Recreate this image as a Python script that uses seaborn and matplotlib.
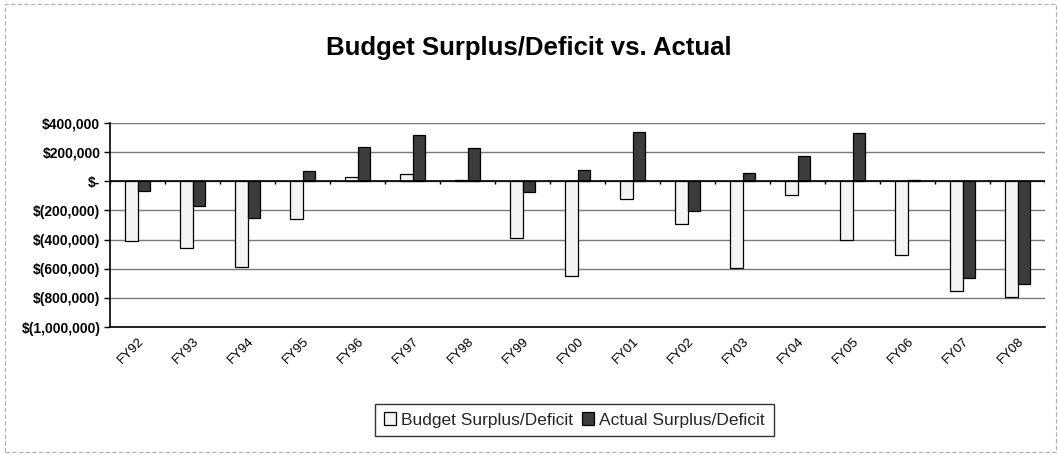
import matplotlib
matplotlib.use("Agg")
import matplotlib.pyplot as plt
import matplotlib.ticker as mticker
from matplotlib.patches import Rectangle
import numpy as np
import pandas as pd
import seaborn as sns

categories = ["FY92", "FY93", "FY94", "FY95", "FY96", "FY97", "FY98", "FY99", "FY00",
              "FY01", "FY02", "FY03", "FY04", "FY05", "FY06", "FY07", "FY08"]
budget = [-410000, -455000, -590000, -260000, 28000, 50000, 5000, -390000, -650000,
          -120000, -295000, -595000, -93000, -405000, -505000, -750000, -795000]
actual = [-70000, -170000, -250000, 70000, 235000, 315000, 225000, -75000, 75000,
          340000, -205000, 55000, 175000, 330000, 10000, -660000, -705000]
series_names = ["Budget Surplus/Deficit", "Actual Surplus/Deficit"]
y_ticks = [400000, 200000, 0, -200000, -400000, -600000, -800000, -1000000]

df = pd.DataFrame({
    "Year": categories * 2,
    "Series": [series_names[0]] * len(categories) + [series_names[1]] * len(categories),
    "Value": budget + actual,
})

sns.set_theme(style="white")
plt.rcParams["font.family"] = ["Liberation Sans", "DejaVu Sans"]

fig = plt.figure(figsize=(10.58, 4.55), dpi=100)
ax = fig.add_axes([0.104, 0.281, 0.884, 0.449])

sns.barplot(data=df, x="Year", y="Value", hue="Series", order=categories,
            hue_order=series_names, palette=["#f4f4f4", "#3c3c3c"],
            width=0.46, edgecolor="black", linewidth=0.9, ax=ax, legend=True,
            errorbar=None)

ax.set_ylim(-1000000, 400000)
ax.set_xlim(-0.5, len(categories) - 0.5)
ax.set_yticks(y_ticks)

def fmt(v, pos):
    if v == 0:
        return "$-"
    if v < 0:
        return "$({:,.0f})".format(-v)
    return "${:,.0f}".format(v)

ax.yaxis.set_major_formatter(mticker.FuncFormatter(fmt))
ax.yaxis.grid(True, color="#7a7a7a", linewidth=1.0)
ax.set_axisbelow(True)
ax.axhline(0, color="black", linewidth=1.2, zorder=3)
bounds = np.arange(len(categories) + 1) - 0.5
ax.vlines(bounds, -22000, 0, color="black", linewidth=1.0, zorder=3)

for s in ["top", "right"]:
    ax.spines[s].set_visible(False)
ax.spines["left"].set_color("black")
ax.spines["left"].set_linewidth(1.2)
ax.spines["bottom"].set_color("black")
ax.spines["bottom"].set_linewidth(1.2)

ax.tick_params(axis="y", left=True, length=4, width=1, color="black",
               labelsize=10, pad=3, labelcolor="black")
ax.tick_params(axis="x", bottom=False, length=0, labelsize=9.5, pad=6, labelcolor="black")
for lab in ax.get_xticklabels():
    lab.set_rotation(45)
    lab.set_ha("right")
    lab.set_rotation_mode("anchor")
for lab in ax.get_yticklabels():
    lab.set_fontweight("bold")

ax.set_xlabel("")
ax.set_ylabel("")

leg = ax.legend(loc="center", bbox_to_anchor=(0.543, 0.077), bbox_transform=fig.transFigure,
                ncol=2, frameon=True, fancybox=False, edgecolor="black", fontsize=12.5,
                handlelength=0.7, handleheight=0.7, handletextpad=0.3, columnspacing=0.5,
                borderpad=0.5)
leg.get_frame().set_linewidth(1.0)

fig.text(0.50, 0.895, "Budget Surplus/Deficit vs. Actual", ha="center", va="center",
         fontsize=18.5, fontweight="bold", color="black")

fig.patches.append(Rectangle((0.005, 0.006), 0.993, 0.986, transform=fig.transFigure,
                             fill=False, edgecolor="#b0b0b0", linewidth=0.8,
                             linestyle=(0, (4, 2))))

fig.savefig("out.png", dpi=100)
